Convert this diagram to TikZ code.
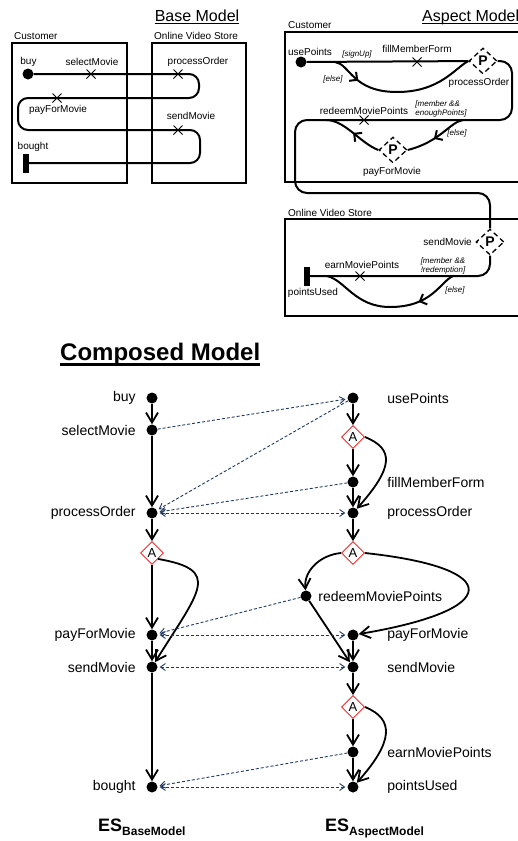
\documentclass[tikz,border=0pt]{standalone}
\usepackage{fontspec}
\setmainfont{Liberation Sans}
\usepackage{tikz}
\usetikzlibrary{positioning,shapes.geometric,shapes.misc,arrows.meta,decorations.markings}
\definecolor{traceblue}{RGB}{31,56,100}

\begin{document}
\begin{tikzpicture}[x=1pt,y=-1pt,on grid]
\tikzstyle{main}=[circle, fill=black, minimum size=11pt, inner sep=0pt]
\tikzstyle{adv}=[diamond, draw=red, line width=0.8pt, fill=white, minimum width=23pt, minimum height=23pt, inner sep=0pt, font=\fontsize{13}{13}\selectfont]
\tikzstyle{pdiam}=[diamond, draw=black, line width=1.3pt, dash pattern=on 5pt off 3.5pt, fill=white, minimum width=28pt, minimum height=26pt, inner sep=0pt, font=\fontsize{14}{14}\selectfont\bfseries]
\tikzstyle{xmark}=[cross out, draw=black, line width=1pt, minimum size=8pt, inner sep=0pt]
\tikzstyle{endbar}=[rectangle, fill=black, minimum width=6pt, minimum height=19pt, inner sep=0pt]
\tikzstyle{box}=[draw=black, line width=1.6pt]
\tikzstyle{flow}=[line width=2pt]
\tikzstyle{connect}=[-{Straight Barb[length=10pt,width=12pt]}, line width=1.8pt]
\tikzstyle{link}=[-{Straight Barb[length=5pt,width=7pt]}, traceblue, line width=0.9pt, dash pattern=on 3pt off 2pt, shorten >=2pt]
\tikzstyle{links}=[link, {Straight Barb[length=5pt,width=7pt]}-{Straight Barb[length=5pt,width=7pt]}, shorten <=2pt]
\tikzstyle{lbl}=[font=\fontsize{14}{16}\selectfont, inner sep=0pt]
\tikzstyle{note}=[font=\fontsize{10}{11}\selectfont, inner sep=0pt]
\tikzstyle{guard}=[font=\fontsize{8}{9}\selectfont\itshape, inner sep=0pt, align=left]
\tikzstyle{heading}=[font=\fontsize{16}{18}\selectfont, inner sep=0pt]
\tikzset{midtick/.style={postaction={decorate, decoration={markings, mark=at position #1 with {\arrow{Straight Barb[angle=90:8pt]}}}}}}

\useasboundingbox (0,0) rectangle (518,841);

%% Base Model
  \node[heading, anchor=base] (baseT) at (197,21) {Base Model};
  \draw[line width=1.4pt] ([yshift=-2.3pt]baseT.base west) -- ([yshift=-2.3pt]baseT.base east);
  \draw[box] (12,43) rectangle (127,183);
  \draw[box] (152,43) rectangle (246,183);
  \node[note, anchor=base west] at (14,39.5) {Customer};
  \node[note, anchor=base west] at (154,39.5) {Online Video Store};

  \node[main] (buy) at (28,74) {};
  \node[endbar] (bought) at (26,163) {};
  \node[xmark] (selX) at (91,74) {};
  \node[xmark] (procX) at (178,74) {};
  \node[xmark] (payX) at (57,98) {};
  \node[xmark] (sendX) at (178,130) {};
  \node[note] at (28.5,62) {buy};
  \node[note] at (92,62) {selectMovie};
  \node[note] at (198,62) {processOrder};
  \node[note] at (58,110) {payForMovie};
  \node[note] at (191,116) {sendMovie};
  \node[note] at (33,147) {bought};
  \draw[flow, rounded corners=10pt] (buy) -- (199,74) -- (199,98) -- (18,98) -- (18,130) -- (200,130) -- (200,163) -- (bought);

%% Aspect Model
  \node[heading, anchor=base west] (aspT) at (422,21) {Aspect Model};
  \draw[line width=1.4pt] ([yshift=-2.3pt]aspT.base west) -- ([yshift=-2.3pt]aspT.base east);
  \draw[box] (285,32) rectangle (540,182);
  \draw[box] (285,219) rectangle (540,316);
  \node[note, anchor=base west] at (288,28) {Customer};
  \node[note, anchor=base west] at (288,216) {Online Video Store};

  % Customer
  \node[main] (useP) at (301,62) {};
  \node[pdiam] (proc) at (483,61) {P};
  \node[pdiam] (pay) at (393,150) {P};
  \node[xmark] (fillX) at (417,62) {};
  \node[xmark] (redX) at (364,120) {};
  \coordinate (sign) at (335,62);
  \coordinate (memb) at (463,120);
  \coordinate (join) at (326,120);
  \node[note] at (310,52) {usePoints};
  \node[guard] at (357,54) {[signUp]};
  \node[note] at (417,49) {fillMemberForm};
  \node[guard] at (333,79) {[else]};
  \node[note] at (479,83) {processOrder};
  \node[note] at (364,111) {redeemMoviePoints};
  \node[guard] at (441,109) {[member \&\&\\enoughPoints]};
  \node[guard] at (457,133) {[else]};
  \node[note] at (392,172) {payForMovie};

  % Online Video Store
  \node[pdiam] (send) at (490,242) {P};
  \node[endbar] (used) at (307,276) {};
  \node[xmark] (earnX) at (360,276) {};
  \coordinate (redm) at (453,276);
  \coordinate (back) at (327,276);
  \node[note, anchor=east] at (472,242) {sendMovie};
  \node[note] at (362,265) {earnMoviePoints};
  \node[guard] at (443,266) {[member \&\&\\!redemption]};
  \node[guard] at (455,290) {[else]};
  \node[note] at (313,293) {pointsUsed};

  \draw[flow] (useP) -- (proc);
  \draw[flow, midtick=0.2] (sign) .. controls (350,64) and (352,92) .. (397,92) .. controls (440,92) and (455,68) .. (proc.west);
  \draw[flow, rounded corners=12pt] (proc.east) -- (512,61) -- (512,120) -- (295,120) -- (295,193) -- (490,193) -- (send.north);
  \draw[flow, midtick=0.55] (memb) .. controls (450,122) and (440,142) .. (pay.east);
  \draw[flow, midtick=0.5] (pay.west) .. controls (360,143) and (345,120) .. (join);
  \draw[flow, rounded corners=12pt] (send.south) |- (used);
  \draw[flow, midtick=0.3] (redm) .. controls (440,282) and (432,307) .. (390,307) .. controls (355,307) and (345,280) .. (back);

%% Composed Model
  \node[font=\fontsize{24}{26}\selectfont\bfseries, inner sep=0pt, anchor=base west] (comp) at (60,360) {Composed Model};
  \draw[line width=2.5pt] ([yshift=-4.5pt]comp.base west) -- ([yshift=-4.5pt]comp.base east);

  % ES of the base model
  \node[main] (buyB) at (152,398) [label={[lbl,label distance=10.5pt]left:buy}] {};
  \node[main] (selB) [below=32pt of buyB, label={[lbl,label distance=10.5pt]left:selectMovie}] {};
  \node[main] (procB) [below=83pt of selB, label={[lbl,label distance=10.5pt]left:processOrder}] {};
  \node[adv] (aB) [below=40pt of procB] {A};
  \node[main] (payB) [below=82pt of aB, label={[lbl,label distance=10.5pt]left:payForMovie}] {};
  \node[main] (sendB) [below=32pt of payB, label={[lbl,label distance=10.5pt]left:sendMovie}] {};
  \node[main] (bouB) [below=120pt of sendB, label={[lbl,label distance=10.5pt]left:bought}] {};

  % ES of the aspect model
  \node[main] (useA) at (353,398) [label={[lbl,label distance=28.5pt]right:usePoints}] {};
  \node[adv] (a1) [below=39pt of useA] {A};
  \node[main] (fillA) [below=45pt of a1, label={[lbl,label distance=28.5pt]right:fillMemberForm}] {};
  \node[main] (procA) [below=31pt of fillA, label={[lbl,label distance=28.5pt]right:processOrder}] {};
  \node[adv] (a2) [below=40pt of procA] {A};
  \node[main] (redA) [below left=43pt and 47pt of a2, label={[lbl,label distance=6.5pt]right:redeemMoviePoints}] {};
  \node[main] (payA) [below=82pt of a2, label={[lbl,label distance=28.5pt]right:payForMovie}] {};
  \node[main] (sendA) [below=32pt of payA, label={[lbl,label distance=28.5pt]right:sendMovie}] {};
  \node[adv] (a3) [below=40pt of sendA] {A};
  \node[main] (earnA) [below=45pt of a3, label={[lbl,label distance=28.5pt]right:earnMoviePoints}] {};
  \node[main] (ptsA) [below=35pt of earnA, label={[lbl,label distance=28.5pt]right:pointsUsed}] {};

  \node[inner sep=0pt, anchor=base west] (esB) at (98,831) {\fontsize{18}{18}\selectfont\bfseries ES\raisebox{-4pt}{\fontsize{12}{12}\selectfont BaseModel}};
  \node[inner sep=0pt, anchor=base west] (esA) at (325,831) {\fontsize{18}{18}\selectfont\bfseries ES\raisebox{-4pt}{\fontsize{12}{12}\selectfont AspectModel}};

  \path
	   %% Base
           (buyB) edge [connect] (selB)
           (selB) edge [connect] (procB)
           (procB) edge [connect] (aB)
           (aB) edge [connect] (payB)
           (payB) edge [connect] (sendB)
           (sendB) edge [connect] (bouB)

           %% Aspect
           (useA) edge [connect] (a1)
           (a1) edge [connect] (fillA)
           (fillA) edge [connect] (procA)
           (procA) edge [connect] (a2)
           (redA) edge [connect] (sendA)
           (payA) edge [connect] (sendA)
           (sendA) edge [connect] (a3)
           (a3) edge [connect] (earnA)
           (earnA) edge [connect] (ptsA);

  \draw[connect] (aB.south east) .. controls +(64,11) and +(48,-77) .. (sendB);
  \draw[connect] (a1.east) .. controls +(30,12) and +(40,-45) .. (procA);
  \draw[connect] (a3.east) .. controls +(30,12) and +(40,-45) .. (ptsA);
  \draw[connect] (a2.west) to[out=185, in=95] (redA);
  \draw[connect] (a2.east) .. controls +(140,15) and +(150,-25) .. (payA);

  % Trace links
  \draw[link] (selB) -- (useA);
  \draw[link] (useA) -- (procB);
  \draw[link] (fillA) -- (procB);
  \draw[links] (procB) -- (procA);
  \draw[link] (redA) -- (payB);
  \draw[links] (payB) -- (payA);
  \draw[links] (sendB) -- (sendA);
  \draw[link] (earnA) -- (bouB);
  \draw[links] (bouB) -- (ptsA);
\end{tikzpicture}
\end{document}
